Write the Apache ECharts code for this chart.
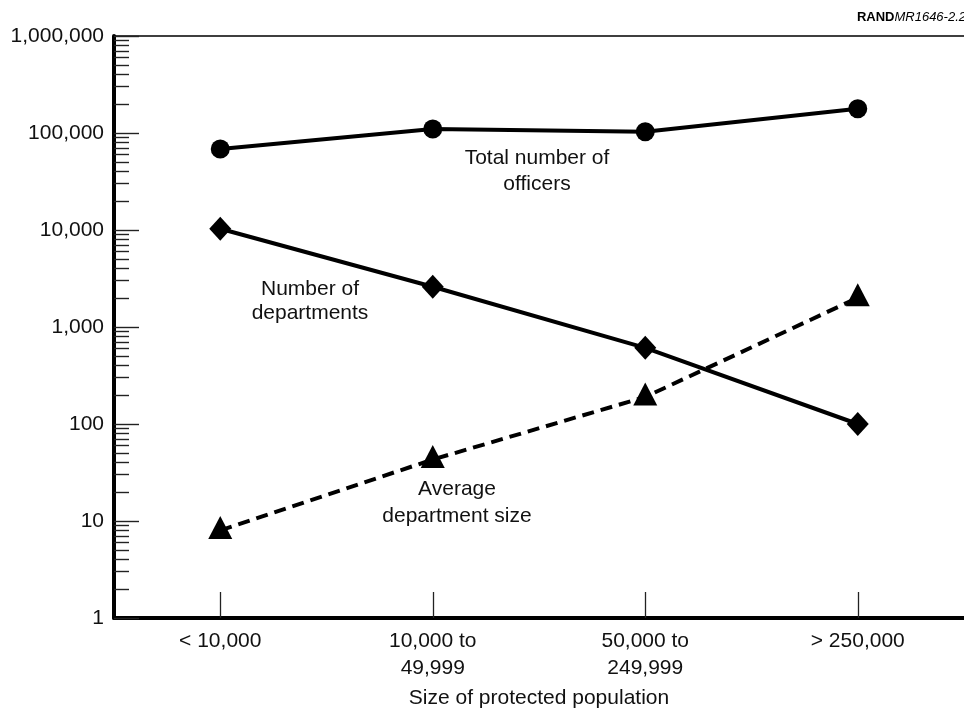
<!DOCTYPE html>
<html>
<head>
<meta charset="utf-8">
<script src="https://cdn.jsdelivr.net/npm/echarts@6/dist/echarts.min.js"></script>
<style>html,body{margin:0;padding:0;background:#fff}#c{width:964px;height:709px}</style>
</head>
<body>
<div id="c"></div>
<script>
// ---- data ----
var categories = ['< 10,000', '10,000 to\n49,999', '50,000 to\n249,999', '> 250,000'];
var totalOfficers = [68500, 110000, 103000, 178000];
var numDepartments = [10300, 2600, 610, 100];
var avgDeptSize = [8, 43, 190, 2000];
var majorTicks = [1, 10, 100, 1000, 10000, 100000, 1000000];
var minorMultipliers = [2, 3, 4, 5, 6, 7, 8, 9];
var xAxisTitle = 'Size of protected population';
var sourceNote = ['RAND', 'MR1646-2.2'];
var seriesLabels = ['Total number of\nofficers', 'Number of\ndepartments', 'Average\ndepartment size'];

var minorTicks = [];
for (var d = 0; d < majorTicks.length - 1; d++) {
  for (var k = 0; k < minorMultipliers.length; k++) minorTicks.push(minorMultipliers[k] * majorTicks[d]);
}

var FONT = '"Liberation Sans", Arial, Helvetica, sans-serif';
var FS = 21;
var chart = echarts.init(document.getElementById('c'), null, {renderer: 'canvas'});
chart.setOption({
  animation: false,
  backgroundColor: '#ffffff',
  grid: {left: 114, right: 0, top: 36, bottom: 91, containLabel: false, outerBoundsMode: 'none'},
  xAxis: [{
    type: 'category',
    data: categories,
    position: 'bottom',
    boundaryGap: true,
    axisLine: {show: true, lineStyle: {color: '#000', width: 4}},
    axisTick: {show: true, inside: true, alignWithLabel: true, length: 26, lineStyle: {color: '#222', width: 1.3}},
    axisLabel: {color: '#111', fontSize: FS, fontFamily: FONT, margin: 10, lineHeight: 27},
    name: xAxisTitle,
    nameLocation: 'middle',
    nameGap: 70,
    nameTextStyle: {color: '#111', fontSize: FS, fontFamily: FONT},
    splitLine: {show: false}
  }, {
    type: 'category',
    data: categories,
    position: 'top',
    axisLine: {show: true, lineStyle: {color: '#000', width: 1.6}},
    axisTick: {show: false},
    axisLabel: {show: false},
    splitLine: {show: false}
  }],
  yAxis: [{
    type: 'log',
    logBase: 10,
    min: 1,
    max: 1000000,
    interval: 1,
    position: 'left',
    axisLine: {show: true, lineStyle: {color: '#000', width: 4}},
    axisTick: {show: true, inside: true, length: 25, customValues: majorTicks, lineStyle: {color: '#222', width: 1.4}},
    axisLabel: {color: '#111', fontSize: FS, fontFamily: FONT, margin: 10, customValues: majorTicks,
      formatter: function (v) { return Number(v).toLocaleString('en-US'); }},
    splitLine: {show: false}
  }, {
    type: 'log',
    logBase: 10,
    min: 1,
    max: 1000000,
    position: 'left',
    axisLine: {show: false},
    axisTick: {show: true, inside: true, length: 15, customValues: minorTicks, lineStyle: {color: '#222', width: 1.4}},
    axisLabel: {show: false},
    splitLine: {show: false}
  }],
  series: [{
    type: 'line',
    data: totalOfficers,
    symbol: 'circle',
    symbolSize: 19,
    lineStyle: {color: '#000', width: 4},
    itemStyle: {color: '#000'},
    z: 3
  }, {
    type: 'line',
    data: numDepartments,
    symbol: 'diamond',
    symbolSize: [22, 24],
    lineStyle: {color: '#000', width: 4},
    itemStyle: {color: '#000'},
    z: 3
  }, {
    type: 'line',
    data: avgDeptSize,
    symbol: 'triangle',
    symbolSize: [24, 23],
    symbolOffset: [0, -3],
    lineStyle: {color: '#000', width: 4, type: [12, 7]},
    itemStyle: {color: '#000'},
    z: 3
  }],
  graphic: [
    {type: 'text', x: 537, y: 171, style: {text: seriesLabels[0], font: FS + 'px ' + FONT, fill: '#111', align: 'center', verticalAlign: 'middle', lineHeight: 26}},
    {type: 'text', x: 310, y: 301, style: {text: seriesLabels[1], font: FS + 'px ' + FONT, fill: '#111', align: 'center', verticalAlign: 'middle', lineHeight: 24}},
    {type: 'text', x: 457, y: 503, style: {text: seriesLabels[2], font: FS + 'px ' + FONT, fill: '#111', align: 'center', verticalAlign: 'middle', lineHeight: 27}},
    {type: 'text', x: 966, y: 17, style: {
      text: '{b|' + sourceNote[0] + '}{i|' + sourceNote[1] + '}', align: 'right', verticalAlign: 'middle',
      rich: {b: {font: 'bold 13px ' + FONT, fill: '#000'}, i: {font: 'italic 13px ' + FONT, fill: '#000'}}}}
  ]
});
</script>
</body>
</html>
